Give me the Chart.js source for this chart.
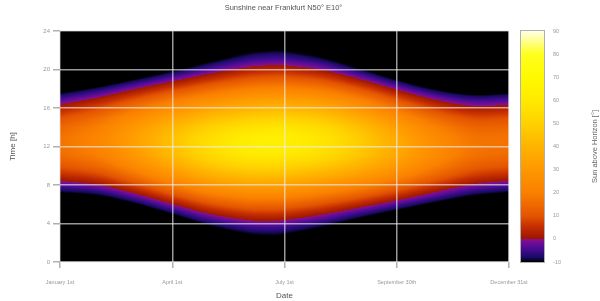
<!DOCTYPE html>
<html>
<head>
<meta charset="utf-8">
<script src="https://cdn.jsdelivr.net/npm/chart.js@4"></script>
<style>
  html, body { margin: 0; background: #fff; }
  #wrap { width: 600px; height: 301px; }
</style>
</head>
<body>
<div id="wrap"><canvas id="chart"></canvas></div>
<script>
// day of year for each sampled column (Jan 1st = 0)
const dayOfYear = [0, 31, 59, 90, 120, 151, 171, 181, 212, 243, 273, 304, 334, 364];
// hour of day for each sampled row
const hours = [0, 1, 2, 3, 4, 5, 6, 7, 8, 9, 10, 11, 12, 13, 14, 15, 16, 17, 18, 19, 20, 21, 22, 23, 24];

// sun elevation in degrees, one value per hour (0..24)
const jan1  = [-62.6, -62.1, -57.1, -49.3, -40.2, -30.7, -21.1, -11.8, -3.3, 4.3, 10.4, 14.7, 16.8, 16.6, 13.9, 9.2, 2.7, -5.1, -13.8, -23.2, -32.8, -42.3, -51.2, -58.5, -62.6];
const feb1  = [-56.6, -56.9, -53.0, -46.1, -37.5, -28.1, -18.5, -9.1, -0.1, 7.9, 14.7, 19.6, 22.3, 22.4, 20.0, 15.4, 8.8, 0.9, -7.9, -17.4, -27.0, -36.4, -45.1, -52.3, -56.6];
const mar1  = [-47.3, -47.4, -44.0, -37.8, -29.8, -20.7, -11.2, -1.6, 7.7, 16.2, 23.4, 28.8, 31.8, 31.9, 29.1, 23.9, 16.8, 8.4, -0.8, -10.4, -20.0, -29.1, -37.2, -43.6, -47.3];
const apr1  = [-35.5, -35.1, -31.9, -26.1, -18.6, -9.9, -0.6, 9.1, 18.5, 27.4, 35.2, 41.0, 44.0, 43.7, 40.0, 33.7, 25.7, 16.7, 7.1, -2.5, -11.7, -20.2, -27.5, -32.8, -35.5];
const may1  = [-24.9, -24.3, -21.1, -15.8, -8.7, -0.3, 8.8, 18.3, 27.9, 37.2, 45.4, 51.7, 54.8, 53.9, 49.2, 41.9, 33.2, 23.7, 14.1, 4.7, -4.1, -12.0, -18.4, -22.8, -24.9];
const jun1  = [-17.9, -17.4, -14.5, -9.6, -2.9, 5.0, 13.9, 23.3, 32.9, 42.4, 51.1, 58.1, 61.8, 60.8, 55.6, 47.7, 38.6, 29.1, 19.5, 10.3, 1.7, -5.7, -11.8, -16.0, -17.9];
const jun21 = [-16.4, -16.1, -13.4, -8.6, -2.1, 5.7, 14.4, 23.8, 33.4, 42.9, 51.8, 59.0, 63.1, 62.4, 57.2, 49.4, 40.3, 30.7, 21.1, 11.9, 3.4, -4.1, -10.1, -14.4, -16.4];
const jul1  = [-16.7, -16.5, -13.9, -9.1, -2.7, 5.1, 13.8, 23.1, 32.7, 42.3, 51.2, 58.5, 62.7, 62.2, 57.2, 49.5, 40.4, 30.8, 21.2, 12.0, 3.4, -4.1, -10.2, -14.6, -16.7];
const aug1  = [-21.8, -21.6, -18.9, -14.0, -7.3, 0.7, 9.6, 19.0, 28.7, 38.1, 46.7, 53.6, 57.6, 57.3, 52.9, 45.7, 37.0, 27.5, 17.9, 8.5, -0.3, -8.2, -14.7, -19.4, -21.8];
const sep1  = [-31.5, -31.1, -27.8, -22.1, -14.7, -6.1, 3.2, 12.8, 22.3, 31.3, 39.2, 45.1, 48.1, 47.5, 43.4, 36.7, 28.4, 19.2, 9.6, 0.0, -9.1, -17.4, -24.2, -29.2, -31.5];
const oct1  = [-43.0, -41.9, -37.6, -30.9, -22.7, -13.5, -3.9, 5.7, 14.8, 23.1, 30.0, 34.8, 36.9, 35.8, 31.8, 25.5, 17.6, 8.7, -0.8, -10.5, -19.8, -28.4, -35.7, -40.8, -43.0];
const nov1  = [-54.4, -52.6, -47.3, -39.6, -30.7, -21.2, -11.6, -2.2, 6.4, 14.1, 20.1, 24.1, 25.6, 24.4, 20.7, 14.9, 7.4, -1.1, -10.4, -20.0, -29.6, -38.6, -46.4, -52.1, -54.4];
const dec1  = [-61.7, -60.1, -54.4, -46.3, -37.1, -27.5, -17.9, -8.8, -0.4, 6.9, 12.7, 16.6, 18.2, 17.3, 14.1, 8.8, 1.9, -6.2, -15.1, -24.6, -34.2, -43.6, -52.1, -58.7, -61.7];
const dec31 = [-62.7, -62.2, -57.2, -49.4, -40.3, -30.8, -21.2, -11.9, -3.4, 4.2, 10.3, 14.6, 16.7, 16.5, 13.8, 9.1, 2.6, -5.2, -13.9, -23.3, -32.9, -42.4, -51.3, -58.6, -62.7];

const columns = [jan1, feb1, mar1, apr1, may1, jun1, jun21, jul1, aug1, sep1, oct1, nov1, dec1, dec31];

const dateTickLabels = ['January 1st', 'April 1st', 'July 1st', 'September 30th', 'December 31st'];

// colour scale, below and above the horizon
const belowStops = [[-10, 0, 0, 0], [-8, 25, 10, 100], [-4, 75, 12, 150], [0, 140, 15, 140]];
const aboveStops = [[0, 155, 22, 0], [5, 195, 45, 0], [10, 228, 85, 0], [20, 250, 128, 0], [30, 255, 152, 0],
                    [40, 255, 180, 0], [50, 255, 210, 0], [60, 255, 235, 0], [70, 255, 250, 0],
                    [80, 255, 255, 30], [90, 255, 255, 230]];

function colorAt(v) {
    if (v < -10) return [0, 0, 0];
    const stops = v < 0 ? belowStops : aboveStops;
    const last = stops[stops.length - 1];
    if (v >= last[0]) return [last[1], last[2], last[3]];
    for (let i = 0; i < stops.length - 1; i++) {
        const a = stops[i], b = stops[i + 1];
        if (v >= a[0] && v <= b[0]) {
            const t = (v - a[0]) / (b[0] - a[0]);
            return [a[1] + (b[1] - a[1]) * t, a[2] + (b[2] - a[2]) * t, a[3] + (b[3] - a[3]) * t];
        }
    }
    return [0, 0, 0];
}

// value of one sampled column at a given hour (linear between hours)
function columnAt(col, hr) {
    let j = 0;
    while (j < hours.length - 2 && hr > hours[j + 1]) j++;
    const fy = Math.min(Math.max((hr - hours[j]) / (hours[j + 1] - hours[j]), 0), 1);
    return col[j] * (1 - fy) + col[j + 1] * fy;
}

// smooth (Hermite) shading between the sampled dates
function valueAt(day, hr) {
    const n = dayOfYear.length;
    let i = 0;
    while (i < n - 2 && day > dayOfYear[i + 1]) i++;
    const d0 = dayOfYear[i], d1 = dayOfYear[i + 1], h = d1 - d0;
    const t = Math.min(Math.max((day - d0) / h, 0), 1);
    const v = k => columnAt(columns[k], hr);
    const slope = k => {
        if (k === 0) return (v(1) - v(0)) / (dayOfYear[1] - dayOfYear[0]);
        if (k === n - 1) return (v(n - 1) - v(n - 2)) / (dayOfYear[n - 1] - dayOfYear[n - 2]);
        return (v(k + 1) - v(k - 1)) / (dayOfYear[k + 1] - dayOfYear[k - 1]);
    };
    const p0 = v(i), p1 = v(i + 1), m0 = slope(i) * h, m1 = slope(i + 1) * h;
    const t2 = t * t, t3 = t2 * t;
    return (2 * t3 - 3 * t2 + 1) * p0 + (t3 - 2 * t2 + t) * m0 + (-2 * t3 + 3 * t2) * p1 + (t3 - t2) * m1;
}

const heatmap = {
    id: 'heatmap',
    beforeDraw(chart) {
        const { ctx, chartArea: a, scales: { x, y } } = chart;
        const w = Math.round(a.right - a.left), h = Math.round(a.bottom - a.top);
        const off = document.createElement('canvas');
        off.width = w; off.height = h;
        const octx = off.getContext('2d');
        const img = octx.createImageData(w, h);
        for (let py = 0; py < h; py++) {
            const hr = y.getValueForPixel(a.top + py + 0.5);
            for (let px = 0; px < w; px++) {
                const day = x.getValueForPixel(a.left + px + 0.5);
                const c = colorAt(valueAt(day, hr));
                const k = (py * w + px) * 4;
                img.data[k] = c[0]; img.data[k + 1] = c[1]; img.data[k + 2] = c[2]; img.data[k + 3] = 255;
            }
        }
        octx.putImageData(img, 0, 0);
        ctx.drawImage(off, a.left, a.top);
    },
    afterDraw(chart) {
        const { ctx, scales: { y2 } } = chart;
        const x0 = y2.left + 12, bw = 23;
        const top = Math.round(y2.getPixelForValue(90)), bottom = Math.round(y2.getPixelForValue(-10));
        for (let py = top; py < bottom; py++) {
            const c = colorAt(y2.getValueForPixel(py + 0.5));
            ctx.fillStyle = `rgb(${c[0] | 0},${c[1] | 0},${c[2] | 0})`;
            ctx.fillRect(x0, py, bw, 1);
        }
        ctx.strokeStyle = '#b0b0b0';
        ctx.lineWidth = 1;
        ctx.strokeRect(x0 - 0.5, top - 0.5, bw + 1, bottom - top + 1);

        // colour bar caption, reading upwards
        ctx.save();
        ctx.translate(595, (top + bottom) / 2);
        ctx.rotate(-Math.PI / 2);
        ctx.font = '7.5px "Liberation Sans", sans-serif';
        ctx.fillStyle = '#666';
        ctx.textAlign = 'center';
        ctx.textBaseline = 'middle';
        ctx.fillText('Sun above Horizon [°]', 0, 0);
        ctx.restore();
    }
};

const gridStyle = { color: 'rgba(235,235,235,0.65)', lineWidth: 1.5, tickColor: '#b0b0b0' };
const tickFont = { family: '"Liberation Sans", sans-serif', size: 5.5 };
const titleFont = { family: '"Liberation Sans", sans-serif', size: 8 };

new Chart(document.getElementById('chart'), {
    type: 'scatter',
    data: { datasets: [] },
    options: {
        responsive: true,
        maintainAspectRatio: false,
        animation: false,
        layout: { padding: { left: 4, right: 37, top: 0, bottom: 0 } },
        plugins: {
            legend: { display: false },
            tooltip: { enabled: false },
            title: {
                display: true,
                text: 'Sunshine near Frankfurt N50° E10°',
                color: '#555',
                font: { family: '"Liberation Sans", sans-serif', size: 7.5, weight: 'normal' },
                padding: { top: 3, bottom: 19 }
            }
        },
        scales: {
            x: {
                type: 'linear', min: 0, max: 364,
                grid: { ...gridStyle, tickLength: 6 },
                border: { display: false },
                ticks: {
                    stepSize: 91, autoSkip: false, maxRotation: 0, padding: 11,
                    color: '#999', font: tickFont,
                    callback: (v, i) => dateTickLabels[i]
                },
                title: { display: true, text: 'Date', color: '#555', font: titleFont, padding: { top: 4, bottom: 0 } },
                afterFit: s => { s.height = 39; }
            },
            y: {
                type: 'linear', min: 0, max: 24,
                grid: { ...gridStyle, tickLength: 7 },
                border: { display: false },
                ticks: { stepSize: 4, padding: 3, color: '#999', font: { ...tickFont, size: 6 } },
                title: { display: true, text: 'Time [h]', color: '#555', font: titleFont, padding: { top: 4, bottom: 26 } },
                afterFit: s => { s.width = 56; }
            },
            y2: {
                type: 'linear', position: 'right', min: -10, max: 90,
                grid: { drawOnChartArea: false, drawTicks: true, tickLength: 40, tickColor: 'rgba(0,0,0,0)' },
                border: { display: false },
                ticks: { stepSize: 10, padding: 4, color: '#999', font: tickFont },
                afterFit: s => { s.width = 54; }
            }
        }
    },
    plugins: [heatmap]
});
</script>
</body>
</html>
